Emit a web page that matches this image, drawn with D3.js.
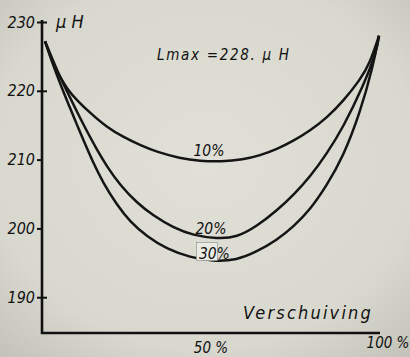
<!DOCTYPE html>
<html>
<head>
<meta charset="utf-8">
<script src="https://cdn.jsdelivr.net/npm/d3@7"></script>
<style>
  html, body { margin: 0; padding: 0; }
  body { width: 410px; height: 357px; overflow: hidden; }
  text { font-family: "DejaVu Sans Condensed", "DejaVu Sans", sans-serif; font-style: italic; fill: #111; }
</style>
</head>
<body>
<svg id="chart" width="410" height="357"></svg>
<script>
// values (x = Verschuiving in %, y = L in µH)
const yTicks = [190, 200, 210, 220, 230];
const xLabels = [50, 100];

const curve10 = [
  [0.9, 227.2], [3.0, 224.2], [5.3, 222.0], [7.7, 220.1], [10.4, 218.6],
  [14.2, 216.8], [19.2, 214.7], [24.0, 213.3], [29.0, 212.1], [34.0, 211.1],
  [40.8, 210.2], [46.7, 209.8], [53.0, 209.7], [59.5, 210.0], [64.5, 210.6],
  [69.5, 211.5], [74.3, 212.7], [79.3, 214.2], [84.3, 216.1], [89.1, 218.5],
  [94.1, 221.6], [97.0, 224.0], [99.7, 228.0]
];
const curve20 = [
  [0.9, 227.2], [4.4, 223.0], [7.7, 219.6], [10.4, 216.9], [13.3, 214.1],
  [16.3, 211.4], [19.2, 209.0], [23.1, 206.3], [28.1, 203.7], [32.8, 201.9],
  [38.8, 200.1], [44.7, 199.0], [51.8, 198.5], [57.7, 198.7], [63.5, 200.3],
  [69.5, 202.6], [74.5, 204.9], [79.3, 207.5], [84.2, 210.8], [89.1, 214.7],
  [95.0, 220.6], [99.1, 225.9], [99.7, 228.0]
];
const curve30 = [
  [0.9, 227.2], [3.8, 223.0], [6.8, 219.3], [8.3, 217.5], [10.4, 215.0],
  [12.1, 213.0], [15.1, 209.6], [18.0, 206.7], [22.2, 203.4], [26.0, 201.0],
  [31.1, 198.8], [37.0, 197.0], [43.8, 195.8], [50.6, 195.2], [57.7, 195.4],
  [63.5, 196.6], [69.5, 198.3], [74.5, 200.3], [79.3, 202.7], [84.2, 206.2],
  [89.1, 210.4], [94.1, 216.8], [97.9, 223.5], [99.7, 228.0]
];
const series = [
  { name: "10%", pts: curve10, lx: 49.4, ly: 210.5 },
  { name: "20%", pts: curve20, lx: 50.0, ly: 199.2 },
  { name: "30%", pts: curve30, lx: 51.0, ly: 195.6 }
];

const svg = d3.select("#chart");

// paper background with darker corners
const defs = svg.append("defs");
const grad = defs.append("radialGradient").attr("id", "paper")
  .attr("cx", "50%").attr("cy", "45%").attr("r", "75%");
grad.append("stop").attr("offset", "0%").attr("stop-color", "#e0e0d8");
grad.append("stop").attr("offset", "70%").attr("stop-color", "#d8d8ce");
grad.append("stop").attr("offset", "100%").attr("stop-color", "#c2c2b8");
svg.append("rect").attr("width", 410).attr("height", 357).attr("fill", "url(#paper)");

const x = d3.scaleLinear().domain([0, 100]).range([42, 380]);
const y = d3.scaleLinear().domain([184.8, 230]).range([333, 22]);

// axes
svg.append("line")
  .attr("x1", x(0)).attr("x2", x(0)).attr("y1", y(230) - 2).attr("y2", y(184.8) + 1)
  .attr("stroke", "#111").attr("stroke-width", 2.6);
svg.append("line")
  .attr("x1", x(0) - 1).attr("x2", x(100)).attr("y1", y(184.8)).attr("y2", y(184.8))
  .attr("stroke", "#111").attr("stroke-width", 2.6);

const yAxis = svg.append("g")
  .attr("transform", `translate(${x(0)},0)`)
  .call(d3.axisLeft(y).tickValues(yTicks).tickSize(0).tickPadding(7));
yAxis.select(".domain").remove();
yAxis.selectAll(".tick text")
  .attr("font-size", 16).attr("font-style", "italic")
  .attr("font-family", "'DejaVu Sans Condensed', sans-serif").attr("fill", "#111");
yAxis.selectAll(".tick").append("line")
  .attr("x1", -5).attr("x2", d => (d === 210 || d === 200) ? 0 : 5)
  .attr("stroke", "#111").attr("stroke-width", 2);

// x labels
svg.selectAll(".xlab").data(xLabels).join("text")
  .attr("class", "xlab")
  .attr("x", d => x(d) + (d === 100 ? 8 : 0))
  .attr("y", d => d === 100 ? 348 : 353)
  .attr("text-anchor", "middle")
  .attr("font-size", 15)
  .text(d => d + " %");

// curves
const line = d3.line()
  .x(d => x(d[0])).y(d => y(d[1]))
  .curve(d3.curveBasis);

svg.selectAll(".curve").data(series).join("path")
  .attr("class", "curve")
  .attr("d", d => line(d.pts))
  .attr("fill", "none")
  .attr("stroke", "#151515")
  .attr("stroke-width", 2.5);

// curve labels
const labs = svg.selectAll(".clab").data(series).join("g").attr("class", "clab");
labs.filter(d => d.name === "30%").append("rect")
  .attr("x", d => x(d.lx) - 18).attr("y", d => y(d.ly) - 16)
  .attr("width", 21).attr("height", 18)
  .attr("fill", "#ebebe5").attr("stroke", "#888").attr("stroke-width", 0.6);
labs.append("text")
  .attr("x", d => x(d.lx))
  .attr("y", d => y(d.ly))
  .attr("text-anchor", "middle")
  .attr("font-size", 15.5)
  .text(d => d.name);

// titles
svg.append("text").attr("x", 56).attr("y", 28).attr("font-size", 18).text("μ H");
svg.append("text").attr("x", 157).attr("y", 60).attr("font-size", 15)
  .attr("letter-spacing", 1.7).text("Lmax =228. μ H");
svg.append("text").attr("x", 243).attr("y", 319).attr("font-size", 18)
  .attr("letter-spacing", 2.2).text("Verschuiving");
</script>
</body>
</html>
